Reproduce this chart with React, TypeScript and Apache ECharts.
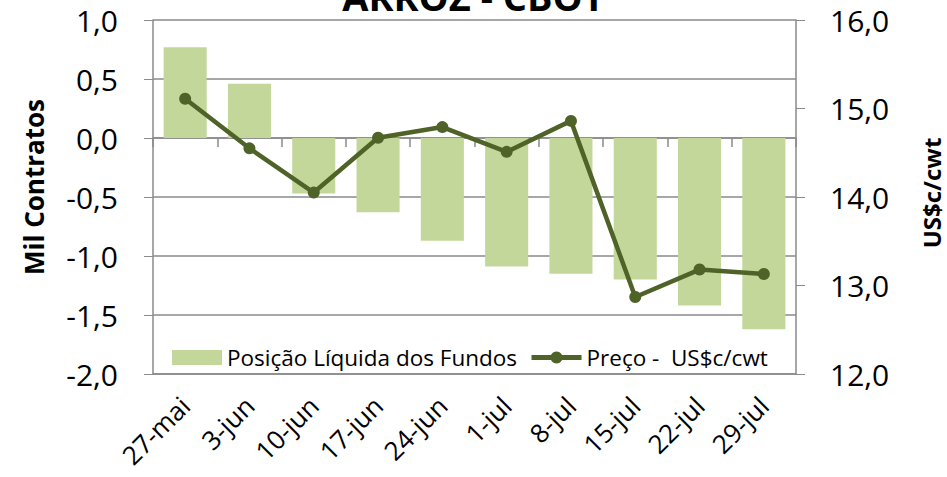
import React, { useEffect, useRef } from "react";
import * as echarts from "echarts";

const categories = ["27-mai", "3-jun", "10-jun", "17-jun", "24-jun", "1-jul", "8-jul", "15-jul", "22-jul", "29-jul"];
const fundPosition = [0.77, 0.46, -0.47, -0.63, -0.87, -1.09, -1.15, -1.2, -1.42, -1.62];
const price = [15.11, 14.55, 14.05, 14.67, 14.79, 14.51, 14.86, 12.87, 13.18, 13.13];
const leftAxisName = "Mil Contratos";
const rightAxisName = "US$c/cwt";
const titleText = "ARROZ - CBOT";

const FONT = "'Open Sans', 'Noto Sans', sans-serif";
const GRAY = "#8a8a8a";
const LINE = "#4f6228";
const fmt = (v: number) => v.toFixed(1).replace(".", ",");

export default function App() {
  const ref = useRef<HTMLDivElement>(null);
  useEffect(() => {
    document.body.style.margin = "0";
    document.body.style.overflow = "hidden";
    if (!ref.current) return;
    const chart = echarts.init(ref.current, null, { renderer: "svg" });
    chart.setOption({
      animation: false,
      title: {
        text: titleText,
        left: "center",
        top: -28,
        textStyle: { fontFamily: FONT, fontSize: 38, fontWeight: "bold", color: "#000" },
      },
      grid: { left: 153, right: 151, top: 20, bottom: 103, containLabel: false, outerBoundsMode: "none" },
      legend: {
        left: 172,
        top: 346,
        padding: 0,
        itemGap: 12,
        itemWidth: 50,
        itemHeight: 15,
        textStyle: { fontFamily: FONT, fontSize: 22.5, color: "#000" },
        data: [
          { name: "Posição Líquida dos Fundos", icon: "rect" },
          { name: "Preço -  US$c/cwt", lineStyle: { width: 5, color: LINE } },
        ],
      },
      graphic: [
        {
          type: "text",
          x: 34,
          y: 187,
          rotation: Math.PI / 2,
          style: {
            text: leftAxisName,
            fontFamily: FONT,
            fontSize: 26,
            fontWeight: "bold",
            fill: "#000",
            align: "center",
            verticalAlign: "middle",
          },
        },
        {
          type: "text",
          x: 931,
          y: 193,
          rotation: Math.PI / 2,
          style: {
            text: rightAxisName,
            fontFamily: FONT,
            fontSize: 24,
            fontWeight: "bold",
            fill: "#000",
            align: "center",
            verticalAlign: "middle",
          },
        },
      ],
      xAxis: [
        {
          type: "category",
          data: categories,
          position: "bottom",
          axisLine: { onZero: false, lineStyle: { color: GRAY, width: 1.5 } },
          axisTick: { show: false },
          axisLabel: { rotate: 45, fontFamily: FONT, fontSize: 26, color: "#000", margin: 27, interval: 0 },
        },
        {
          type: "category",
          data: categories,
          position: "bottom",
          axisLine: { onZero: true, onZeroAxisIndex: 0, lineStyle: { color: GRAY, width: 1.5 } },
          axisTick: { show: true, length: 9, interval: 0, lineStyle: { color: GRAY, width: 1.5 } },
          axisLabel: { show: false },
          splitLine: { show: false },
        },
      ],
      yAxis: [
        {
          type: "value",
          min: -2,
          max: 1,
          interval: 0.5,
          axisLine: { show: true, lineStyle: { color: GRAY, width: 1.5 } },
          axisTick: { show: true, length: 9, lineStyle: { color: GRAY } },
          axisLabel: { formatter: fmt, fontFamily: FONT, fontSize: 30, color: "#000", margin: 35 },
          splitLine: { show: true, lineStyle: { color: GRAY, width: 1.5 } },
        },
        {
          type: "value",
          min: 12,
          max: 16,
          interval: 1,
          axisLine: { show: true, lineStyle: { color: GRAY, width: 1.5 } },
          axisTick: { show: true, length: 9, lineStyle: { color: GRAY } },
          axisLabel: { formatter: fmt, fontFamily: FONT, fontSize: 30, color: "#000", margin: 34 },
          splitLine: { show: false },
        },
      ],
      series: [
        {
          name: "Posição Líquida dos Fundos",
          type: "bar",
          data: fundPosition,
          barWidth: "67%",
          itemStyle: { color: "#c4d79b" },
          xAxisIndex: 0,
          yAxisIndex: 0,
        },
        {
          name: "Preço -  US$c/cwt",
          type: "line",
          data: price,
          xAxisIndex: 0,
          yAxisIndex: 1,
          symbol: "circle",
          symbolSize: 12,
          lineStyle: { color: LINE, width: 4.5 },
          itemStyle: { color: LINE },
        },
      ],
    });
    return () => chart.dispose();
  }, []);
  return <div ref={ref} style={{ width: 947, height: 477 }} />;
}
